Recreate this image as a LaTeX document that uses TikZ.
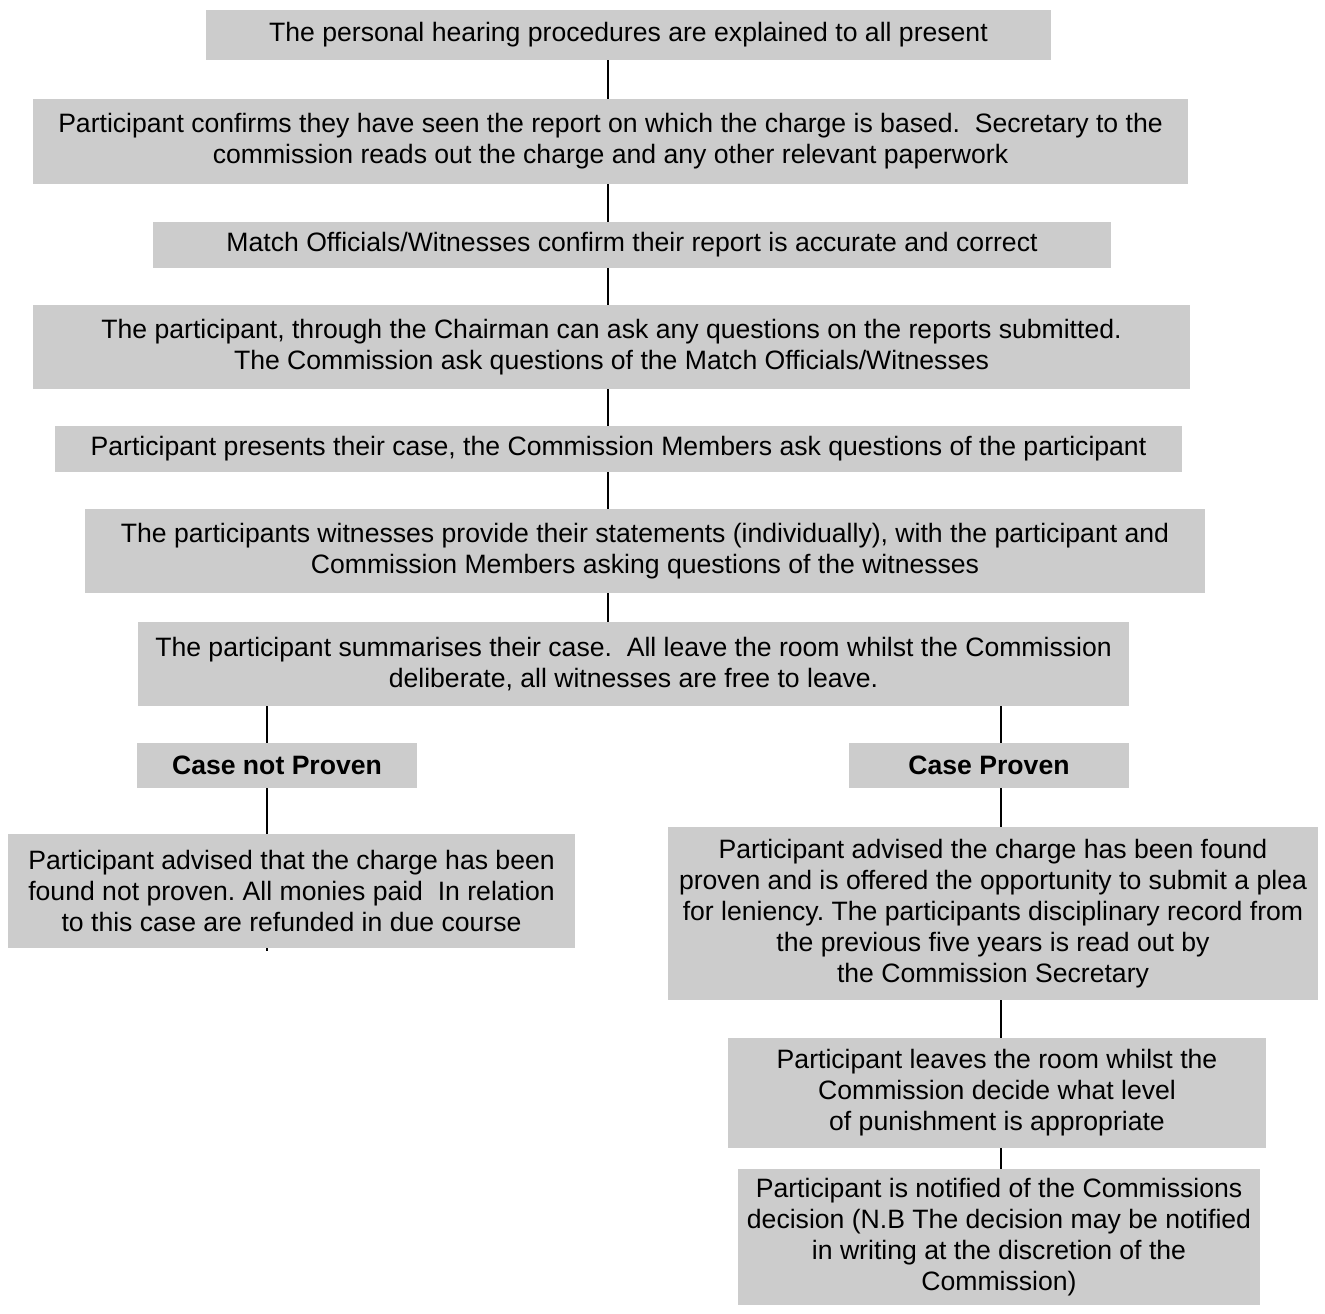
\documentclass[tikz,border=0pt]{standalone}
\usepackage{fontspec}
\setmainfont{Liberation Sans}
\usepackage{xcolor}
\usetikzlibrary{positioning,calc}
\definecolor{boxgray}{HTML}{CCCCCC}
\frenchspacing

\begin{document}
\begin{tikzpicture}[x=0.5pt, y=-0.5pt,
		stage/.style={fill=boxgray, inner sep=0pt, align=center, font=\fontsize{13.3}{15.5}\selectfont},
		link/.style={line width=0.75pt}]
		\useasboundingbox (0,0) rectangle (1325,1313);

		\node[stage, minimum width=422.5pt, minimum height=25pt] (intro) at (628.5,35) {The personal hearing procedures are explained to all present};
		\node[stage, minimum width=577.5pt, minimum height=42.5pt] (charge) at (610.5,141.5) {Participant confirms they have seen the report on which the charge is based.~ Secretary to the\\commission reads out the charge and any other relevant paperwork};
		\node[stage, minimum width=479pt, minimum height=23pt] (accurate) at (632,245) {Match Officials/Witnesses confirm their report is accurate and correct};
		\node[stage, minimum width=578.5pt, minimum height=42pt] (questions) at (611.5,347) {The participant, through the Chairman can ask any questions on the reports submitted.\\The Commission ask questions of the Match Officials/Witnesses};
		\node[stage, minimum width=563.5pt, minimum height=23pt] (presents) at (618.5,449) {Participant presents their case, the Commission Members ask questions of the participant};
		\node[stage, minimum width=560pt, minimum height=42pt] (witnesses) at (645,551) {The participants witnesses provide their statements (individually), with the participant and\\Commission Members asking questions of the witnesses};
		\node[stage, minimum width=495.5pt, minimum height=42pt] (summary) at (633.5,664) {The participant summarises their case.~ All leave the room whilst the Commission\\deliberate, all witnesses are free to leave.};

		\node[stage, minimum width=140pt, minimum height=22.5pt, font=\fontsize{13.3}{15.5}\selectfont\bfseries] (notproven) at (277,765.5) {Case not Proven};
		\node[stage, minimum width=140pt, minimum height=22.5pt, font=\fontsize{13.3}{15.5}\selectfont\bfseries] (proven) at (989,765.5) {Case Proven};

		\node[stage, minimum width=283.5pt, minimum height=57pt] (refund) at (291.5,891) {Participant advised that the charge has been\\found not proven. All monies paid~ In relation\\to this case are refunded in due course};
		\node[stage, minimum width=325pt, minimum height=86.5pt] (plea) at (993,913.5) {Participant advised the charge has been found\\proven and is offered the opportunity to submit a plea\\for leniency. The participants disciplinary record from\\the previous five years is read out by\\the Commission Secretary};
		\node[stage, minimum width=269pt, minimum height=55pt] (punish) at (997,1093) {Participant leaves the room whilst the\\Commission decide what level\\of punishment is appropriate};
		\node[stage, minimum width=261pt, minimum height=68pt] (notify) at (999,1237) {Participant is notified of the Commissions\\decision (N.B The decision may be notified\\in writing at the discretion of the\\Commission)};

		\coordinate (spine) at (608,0);
		\coordinate (lbranch) at (267,0);
		\coordinate (rbranch) at (1001,0);
		\coordinate (tail) at (267,951);

		\foreach \a/\b in {intro/charge, charge/accurate, accurate/questions, questions/presents, presents/witnesses, witnesses/summary}
			\draw[link] (\a.south -| spine) -- (\b.north -| spine);

		\draw[link] (summary.south -| lbranch) -- (notproven.north -| lbranch);
		\draw[link] (summary.south -| rbranch) -- (proven.north -| rbranch);
		\draw[link] (notproven.south -| lbranch) -- (refund.north -| lbranch);
		\draw[link] (refund.south -| lbranch) -- (tail);
		\draw[link] (proven.south -| rbranch) -- (plea.north -| rbranch);
		\draw[link] (plea.south -| rbranch) -- (punish.north -| rbranch);
		\draw[link] (punish.south -| rbranch) -- (notify.north -| rbranch);
	\end{tikzpicture}
\end{document}
